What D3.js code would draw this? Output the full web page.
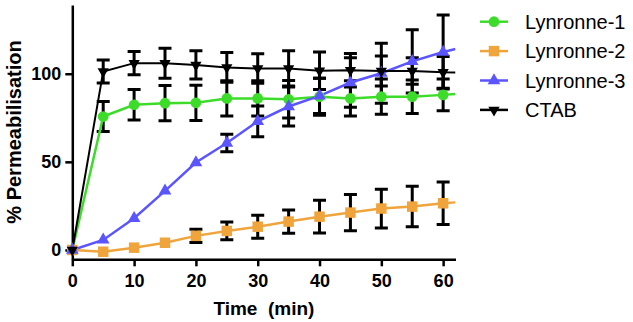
<!DOCTYPE html>
<html lang="en">
  <head>
    <meta charset="UTF-8" />
    <title>permeabilisation</title>
    <script src="https://cdn.jsdelivr.net/npm/d3@7/dist/d3.min.js"></script>
    <style>
      body { margin: 0; background: #fff; }
      text { font-family: "Liberation Sans", Arial, sans-serif; }
    </style>
  </head>
  <body>
    <div id="wrapper"></div>
    <script>
      // values
      const times = [0, 5, 10, 15, 20, 25, 30, 35, 40, 45, 50, 55, 60];
      const lyn1 = [0, 75.7, 82.4, 83.3, 83.5, 86, 86, 85.5, 87, 86, 87, 87, 88];
      const lyn1Err = [0, 8.5, 8.7, 10, 10, 10, 10, 10.6, 10.5, 10, 10, 9.5, 9];
      const lyn2 = [0, -1, 1.3, 4.1, 8, 10.8, 13.2, 16.1, 18.9, 21.2, 23.5, 24.6, 26.5];
      const lyn2Err = [0, 0, 0, 0, 3.8, 5, 6.5, 6.6, 9.3, 10.3, 11, 11.5, 12];
      const lyn3 = [0, 5.7, 18, 33.5, 49.6, 60.7, 73, 81.4, 87.4, 95, 100.3, 107, 112.3];
      const lyn3Err = [0, 0, 0, 0, 0, 5, 8.7, 11, 10, 14, 17, 18, 21];
      const ctab = [0, 101.3, 106, 106, 105, 103.6, 103, 103, 101.7, 102, 101.5, 101.5, 100.8];
      const ctabErr = [0, 6.5, 6.6, 8.5, 8, 8.5, 8.4, 10, 10.6, 9.5, 8.5, 7.5, 9];
      // where each line meets the right end of the axis (t = 62)
      const tailTime = 62;
      const tailValues = [88.5, 27, 114, 100.7];

      const seriesNames = ["Lynronne-1", "Lynronne-2", "Lynronne-3", "CTAB"];
      const seriesValues = [lyn1, lyn2, lyn3, ctab];
      const seriesErrors = [lyn1Err, lyn2Err, lyn3Err, ctabErr];
      const seriesColors = ["#3ddc2a", "#f0a43c", "#5b55ff", "#000000"];
      const seriesShapes = ["circle", "square", "triangle", "down"];

      const xTicks = [0, 10, 20, 30, 40, 50, 60];
      const yTicks = [0, 50, 100];

      const width = 633, height = 322;
      const svg = d3.select("#wrapper").append("svg")
        .attr("width", width).attr("height", height);

      const xScale = d3.scaleLinear().domain([0, 62]).range([72.3, 455.5]);
      const yScale = d3.scaleLinear().domain([-5.3, 139]).range([259.3, 5]);

      const series = seriesNames.map((name, i) => ({
        name,
        color: seriesColors[i],
        shape: seriesShapes[i],
        points: times.map((t, j) => ({ t, v: seriesValues[i][j], e: seriesErrors[i][j] })),
        tail: { t: tailTime, v: tailValues[i] },
      }));

      const clip = svg.append("clipPath").attr("id", "plot")
        .append("rect")
        .attr("x", xScale(0) - 10).attr("y", 0)
        .attr("width", xScale(62) - xScale(0) + 10).attr("height", yScale(-5.3));

      // axes
      const xAxis = svg.append("g")
        .attr("transform", `translate(0,${yScale(-5.3)})`)
        .call(d3.axisBottom(xScale).tickValues(xTicks).tickSize(7).tickSizeOuter(0).tickPadding(8));
      const yAxis = svg.append("g")
        .attr("transform", `translate(${xScale(0)},0)`)
        .call(d3.axisLeft(yScale).tickValues(yTicks).tickSize(7).tickSizeOuter(0).tickPadding(4));
      [xAxis, yAxis].forEach((a) => {
        a.select(".domain").attr("stroke", "#000").attr("stroke-width", 2.5);
        a.selectAll(".tick line").attr("stroke", "#000").attr("stroke-width", 2.5);
        a.selectAll(".tick text")
          .attr("fill", "#000")
          .style("font-size", "18px")
          .style("font-weight", "bold")
          .style("font-family", "'Liberation Sans', Arial, sans-serif");
      });

      const plot = svg.append("g").attr("clip-path", "url(#plot)");

      // error bars (black)
      const capW = 6.5;
      series.forEach((s) => {
        const bars = s.points.filter((d) => d.e > 0);
        const g = plot.append("g").attr("stroke", "#000").attr("stroke-width", 3);
        g.selectAll(".stem").data(bars).join("line")
          .attr("x1", (d) => xScale(d.t)).attr("x2", (d) => xScale(d.t))
          .attr("y1", (d) => yScale(d.v + d.e)).attr("y2", (d) => yScale(d.v - d.e));
        g.selectAll(".capHi").data(bars).join("line")
          .attr("x1", (d) => xScale(d.t) - capW).attr("x2", (d) => xScale(d.t) + capW)
          .attr("y1", (d) => yScale(d.v + d.e)).attr("y2", (d) => yScale(d.v + d.e));
        g.selectAll(".capLo").data(bars).join("line")
          .attr("x1", (d) => xScale(d.t) - capW).attr("x2", (d) => xScale(d.t) + capW)
          .attr("y1", (d) => yScale(d.v - d.e)).attr("y2", (d) => yScale(d.v - d.e));
      });

      // lines
      const line = d3.line().x((d) => xScale(d.t)).y((d) => yScale(d.v));
      series.forEach((s) => {
        plot.append("path")
          .datum(s.points.concat([s.tail]))
          .attr("fill", "none")
          .attr("stroke", s.color)
          .attr("stroke-width", s.shape === "down" ? 2 : 2.5)
          .attr("d", line);
      });

      // markers
      const symbolFor = (shape) => {
        if (shape === "circle") return d3.symbol(d3.symbolCircle, 90)();
        if (shape === "square") return d3.symbol(d3.symbolSquare, 110)();
        if (shape === "triangle") return d3.symbol(d3.symbolTriangle, 70)();
        return d3.symbol(d3.symbolTriangle, 55)();
      };
      const markerG = svg.append("g");
      series.forEach((s) => {
        markerG.selectAll(null).data(s.points).join("path")
          .attr("d", symbolFor(s.shape))
          .attr("fill", s.color)
          .attr("transform", (d) =>
            `translate(${xScale(d.t)},${yScale(d.v)})` + (s.shape === "down" ? " rotate(180)" : ""));
      });

      // axis titles
      svg.append("text")
        .attr("x", (xScale(0) + xScale(62)) / 2).attr("y", 315)
        .attr("text-anchor", "middle")
        .style("font-size", "19px").style("font-weight", "bold")
        .attr("xml:space", "preserve")
        .text("Time\u00a0\u00a0(min)");
      svg.append("text")
        .attr("transform", "translate(21,132) rotate(-90)")
        .attr("text-anchor", "middle")
        .style("font-size", "20px").style("font-weight", "bold")
        .text("% Permeabilisation");

      // legend
      const legend = svg.append("g");
      series.forEach((s, i) => {
        const cy = 21.7 + i * 29.4;
        const row = legend.append("g");
        row.append("line")
          .attr("x1", 480).attr("x2", 508).attr("y1", cy).attr("y2", cy)
          .attr("stroke", s.color).attr("stroke-width", 2.5);
        row.append("path")
          .attr("d", symbolFor(s.shape))
          .attr("fill", s.color)
          .attr("transform", `translate(494,${cy})` + (s.shape === "down" ? " rotate(180)" : ""));
        row.append("text")
          .attr("x", 525).attr("y", cy + 7)
          .style("font-size", "20px")
          .attr("fill", "#000")
          .text(s.name);
      });
    </script>
  </body>
</html>
